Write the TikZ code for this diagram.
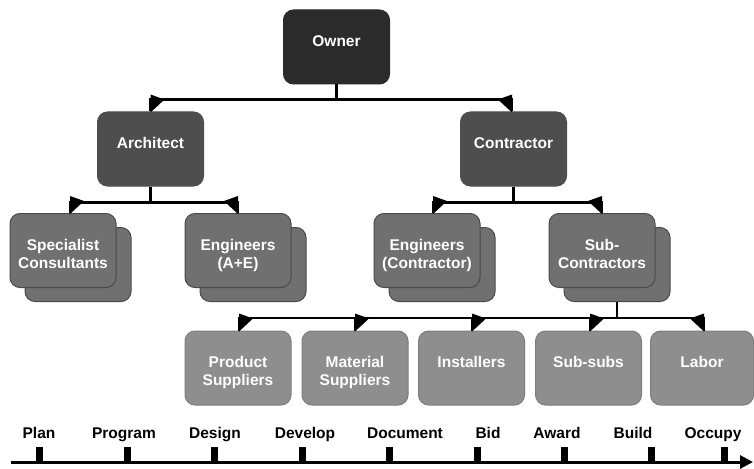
\documentclass[tikz,border=0pt]{standalone}
\usepackage{fontspec}
\setmainfont{Liberation Sans}
\usetikzlibrary{arrows.meta}
\definecolor{cOwner}{HTML}{2B2B2B}
\definecolor{cTop}{HTML}{4E4E4E}
\definecolor{cMid}{HTML}{707070}
\definecolor{cMidB}{HTML}{4A4A4A}
\definecolor{cLow}{HTML}{8E8E8E}
\definecolor{cLowB}{HTML}{7E7E7E}
\newcommand\boxtxt[1]{\parbox[t]{100pt}{\centering #1}}
\tikzset{
  orgbox/.style={rounded corners=10pt, minimum width=106pt, inner sep=0pt,
    text height=36.5pt, text depth=37.5pt, text=white, line width=1pt,
    font=\fontsize{15.5}{18}\selectfont\bfseries},
  ownerbox/.style={orgbox, fill=cOwner, draw=cOwner},
  topbox/.style={orgbox, fill=cTop, draw=cTop},
  midbox/.style={orgbox, fill=cMid, draw=cMidB},
  lowbox/.style={orgbox, fill=cLow, draw=cLowB},
  conn/.style={line width=2.5pt, draw=black},
  tl/.style={anchor=base, inner sep=0pt, font=\fontsize{15.5}{18}\selectfont\bfseries},
  harR/.pic={\fill[black] (0,1) -- (0,-17) -- (14,-12) -- cycle;},
  harL/.pic={\fill[black] (0,1) -- (0,-17) -- (-14,-12) -- cycle;}
}
\begin{document}
\begin{tikzpicture}[x=1pt,y=-1pt]
\useasboundingbox (0,0) rectangle (754,468);
% top
\node[ownerbox] (own) at (336.5,47) {\boxtxt{Owner}};
\node[topbox] (arch) at (150.5,149) {\boxtxt{Architect}};
\node[topbox] (cont) at (513.5,149) {\boxtxt{Contractor}};
% second row (stacked)
\node[midbox] (sc2) at (78,264.5) {};
\node[midbox] (sc) at (63,250.5) {\boxtxt{Specialist\\Consultants}};
\node[midbox] (ea2) at (253,264.5) {};
\node[midbox] (ea) at (238,250.5) {\boxtxt{Engineers\\(A+E)}};
\node[midbox] (ec2) at (442,264.5) {};
\node[midbox] (ec) at (427,250.5) {\boxtxt{Engineers\\(Contractor)}};
\node[midbox] (sub2) at (617,264.5) {};
\node[midbox] (sub) at (602,250.5) {\boxtxt{Sub-\\Contractors}};
% bottom row
\node[lowbox] (ps) at (238,368) {\boxtxt{Product\\Suppliers}};
\node[lowbox] (ms) at (355,368) {\boxtxt{Material\\Suppliers}};
\node[lowbox] (inst) at (471.5,368) {\boxtxt{Installers}};
\node[lowbox] (ss) at (588.5,368) {\boxtxt{Sub-subs}};
\node[lowbox, minimum width=103pt] (lab) at (702,368) {\boxtxt{Labor}};
% connectors
\draw[conn] (own.south) -- ++(0,15) -| (arch.north);
\draw[conn] (own.south) -- ++(0,15) -| ([xshift=-1.5pt]cont.north);
\pic at (arch.north) {harR};
\pic at ([xshift=-1.5pt]cont.north) {harL};
\draw[conn] (arch.south) -- ++(0,16) -| ([xshift=7pt]sc.north);
\draw[conn] (arch.south) -- ++(0,16) -| (ea.north);
\pic at ([xshift=7pt]sc.north) {harR};
\pic at (ea.north) {harL};
\draw[conn] (cont.south) -- ++(0,16) -| ([xshift=6pt]ec.north);
\draw[conn] (cont.south) -- ++(0,16) -| (sub.north);
\pic at ([xshift=6pt]ec.north) {harR};
\pic at (sub.north) {harL};
\draw[conn] (sub2.south) -- ++(0,16) -| ([xshift=1pt]ps.north);
\draw[conn] (sub2.south) -- ++(0,16) -| (ms.north);
\draw[conn] (sub2.south) -- ++(0,16) -| ([xshift=0.5pt]inst.north);
\draw[conn] (sub2.south) -- ++(0,16) -| ([xshift=1.5pt]ss.north);
\draw[conn] (sub2.south) -- ++(0,16) -| ([xshift=2pt]lab.north);
\pic at ([xshift=1pt]ps.north) {harR};
\pic at (ms.north) {harR};
\pic at ([xshift=0.5pt]inst.north) {harR};
\pic at ([xshift=1.5pt]ss.north) {harR};
\pic at ([xshift=2pt]lab.north) {harL};
% timeline
\coordinate (ts) at (11,462);
\coordinate (te) at (753,462);
\draw[line width=3pt, -{Triangle[length=13pt,width=13pt]}] (ts) -- (te);
\foreach \x in {39,127,214,302,389,477,564,651,724}
  \fill[black] (\x-3.5,447) rectangle (\x+3.5,462);
\node[tl] (t1) at (39,438.5) {Plan};
\node[tl] (t2) at (124,438.5) {Program};
\node[tl] (t3) at (215,438.5) {Design};
\node[tl] (t4) at (305,438.5) {Develop};
\node[tl] (t5) at (405,438.5) {Document};
\node[tl] (t6) at (488,438.5) {Bid};
\node[tl] (t7) at (557,438.5) {Award};
\node[tl] (t8) at (633,438.5) {Build};
\node[tl] (t9) at (713,438.5) {Occupy};
\end{tikzpicture}
\end{document}
